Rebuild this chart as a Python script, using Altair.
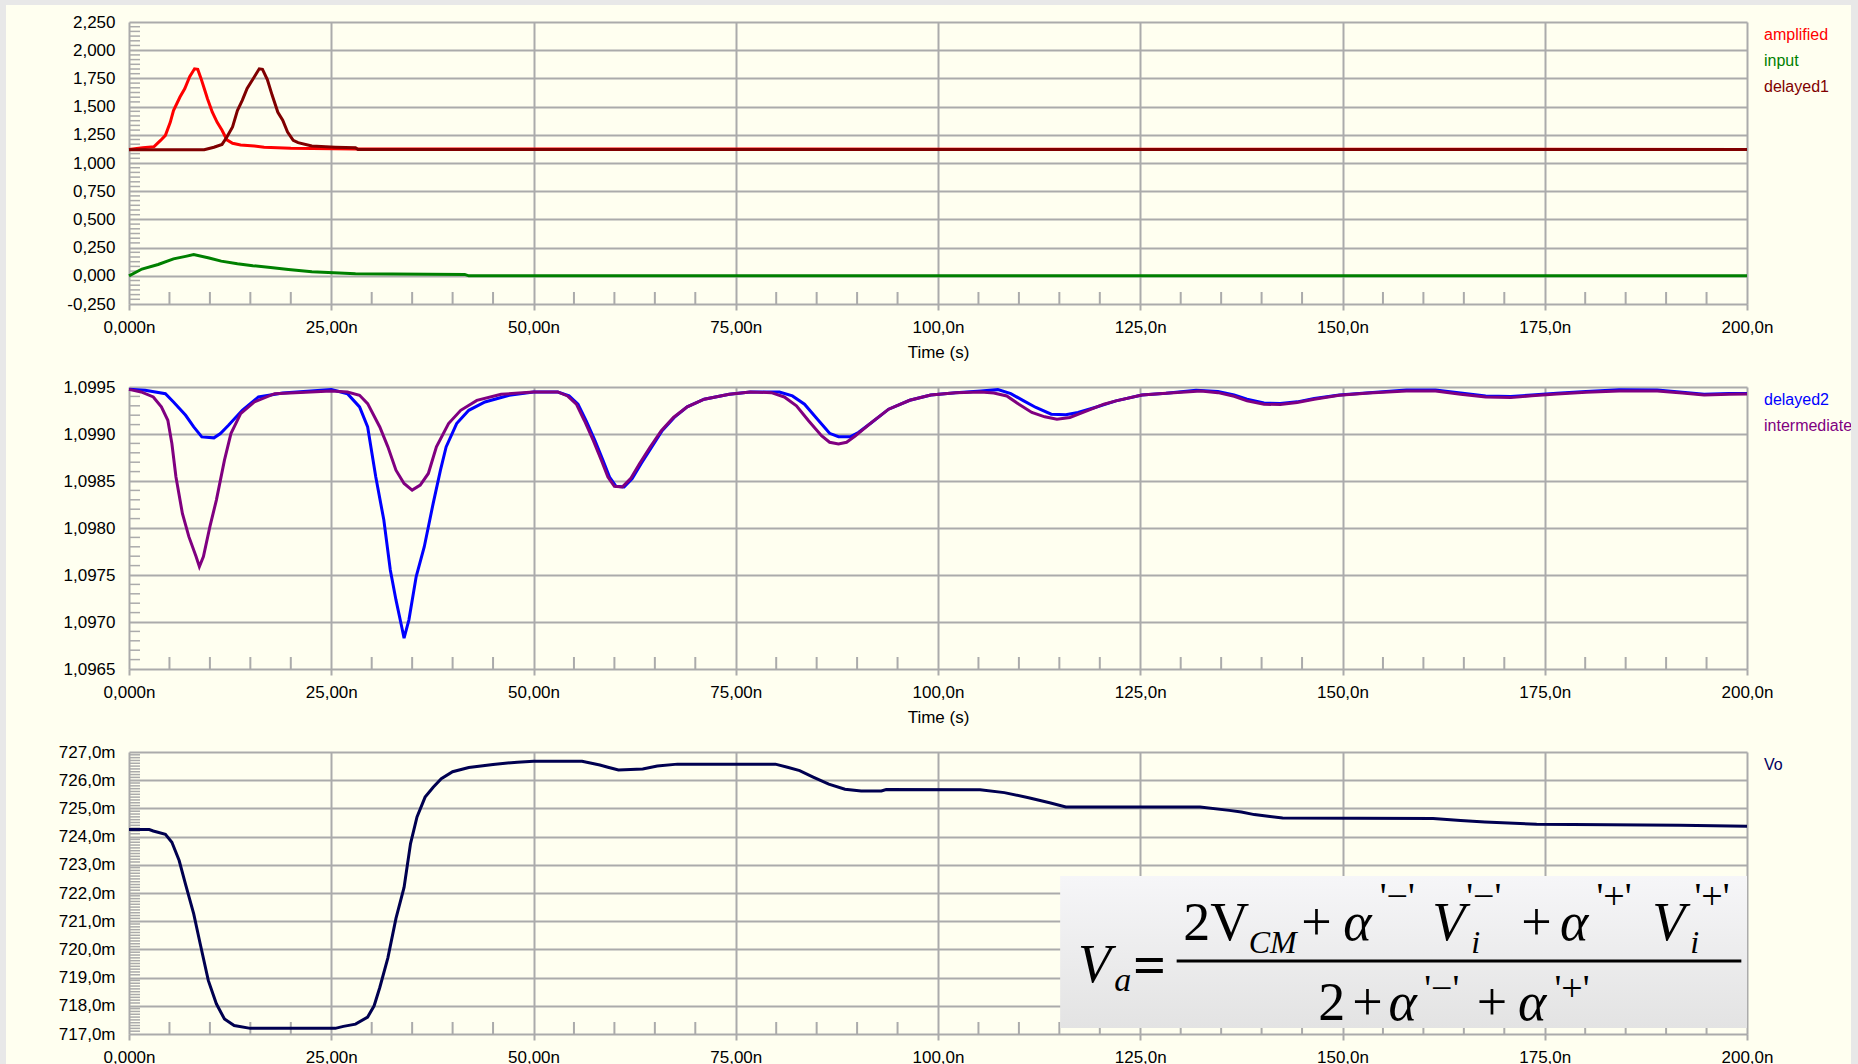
import json
import altair as alt
import pandas as pd

# ---------------- series (time in ns) ----------------
AMP_T = [0, 1.7, 3.1, 3.9, 4.5, 5.1, 5.5, 6.3, 6.9, 7.5, 8.1, 8.5, 8.9, 9.3, 9.7, 10.3,
         10.9, 11.5, 12.1, 12.8, 13.8, 15.5, 16.7, 20.0, 28.0, 200]
AMP_V = [1.12, 1.135, 1.145, 1.20, 1.245, 1.36, 1.465, 1.585, 1.66, 1.765, 1.835, 1.83,
         1.75, 1.66, 1.57, 1.45, 1.36, 1.29, 1.205, 1.175, 1.16, 1.15, 1.14, 1.13, 1.125, 1.12]

INP_T = [0, 1.6, 3.6, 5.5, 7.0, 8.0, 9.9, 11.4, 13.4, 15.3, 17.5, 19.7, 22.6, 28.0, 41.5, 42.0, 200]
INP_V = [0.0, 0.06, 0.10, 0.15, 0.172, 0.188, 0.158, 0.13, 0.107, 0.09, 0.074, 0.056, 0.035,
         0.018, 0.012, 0.0, 0.0]

DL1_T = [0, 9.3, 10.5, 11.5, 12.1, 12.8, 13.4, 14.0, 14.6, 15.5, 16.1, 16.5, 17.1, 17.7, 18.4,
         19.0, 19.6, 20.3, 20.9, 22.6, 25.5, 28.0, 28.3, 200]
DL1_V = [1.117, 1.117, 1.14, 1.165, 1.23, 1.32, 1.465, 1.555, 1.66, 1.765, 1.835, 1.83, 1.74,
         1.60, 1.45, 1.38, 1.275, 1.20, 1.18, 1.15, 1.14, 1.135, 1.12, 1.12]

DL2_T = [0, 2, 4.5, 5.5, 7, 8, 9, 10.5, 11.3, 12.3, 14, 16, 19, 25, 27, 28.5, 29.5, 30.5, 31.5,
         32.3, 33, 33.7, 34, 34.6, 35.5, 36.5, 37.6, 38.5, 39.2, 40.5, 42, 44, 47, 50, 53, 54.4,
         55.5, 56.5, 57.6, 58.6, 59.4, 60.2, 61.2, 62.2, 63.3, 64.6, 65.9, 67.4, 69, 71.1, 74.2,
         76.8, 80.4, 82, 83.5, 85.1, 86.6, 87.7, 89.2, 90.2, 91.8, 93.9, 96.5, 99.1, 102.2, 105.3,
         107.4, 109, 110.6, 112.1, 114, 115.8, 117.3, 119.4, 122, 125.2, 128.2, 131.9, 134.6,
         136.6, 138.2, 140.3, 142.3, 144.4, 146.5, 149.6, 153.3, 157.9, 161.5, 164.6, 167.7,
         170.8, 173.4, 176.5, 180.1, 184.2, 188.9, 192, 194.7, 197.8, 200]
DL2_V = [1.099475, 1.099465, 1.099429, 1.099341, 1.099199, 1.099075, 1.098969, 1.098959,
         1.099005, 1.099093, 1.099252, 1.099394, 1.099436, 1.099472, 1.099429, 1.099288,
         1.099075, 1.098545, 1.098085, 1.097554, 1.097235, 1.096952, 1.096828, 1.097023,
         1.097483, 1.097801, 1.098262, 1.098615, 1.098863, 1.099111, 1.099252, 1.099341,
         1.099412, 1.099447, 1.099447, 1.099405, 1.099317, 1.099141, 1.09893, 1.098718,
         1.098542, 1.098444, 1.098437, 1.098525, 1.098683, 1.098859, 1.099035, 1.099176,
         1.099289, 1.09937, 1.099423, 1.099447, 1.099447, 1.099405, 1.099317, 1.099158,
         1.099007, 1.098972, 1.098972, 1.099018, 1.099123, 1.099264, 1.099359, 1.099415,
         1.09944, 1.099458, 1.099472, 1.09943, 1.099352, 1.099282, 1.099211, 1.099204,
         1.099229, 1.099282, 1.099352, 1.099415, 1.099433, 1.099465, 1.099451, 1.099415,
         1.09937, 1.099331, 1.099324, 1.099342, 1.099377, 1.099415, 1.09944, 1.099468,
         1.099468, 1.099437, 1.099405, 1.099398, 1.099415, 1.099433, 1.099451, 1.099472,
         1.099468, 1.099444, 1.099423, 1.09943, 1.09943]

INT_T = [0, 1.5, 3, 4, 4.8, 5.3, 5.8, 6.6, 7.4, 8.3, 8.7, 9.2, 10, 10.8, 11.8, 12.6, 13.8, 15.5,
         18, 25, 27, 28.5, 29.5, 31, 32, 33, 34, 35, 36, 37, 38, 39.5, 41, 43, 46, 50, 53, 54.2,
         55.3, 56.3, 57.4, 58.4, 59.2, 60.0, 61.0, 62.0, 63.1, 64.4, 65.8, 67.3, 69, 71.1, 74.2,
         76.8, 79.4, 81, 82.5, 84, 85.6, 86.6, 87.7, 88.7, 89.8, 91.8, 93.9, 96.5, 99.1, 102.2,
         105.3, 106.9, 108.5, 110, 111.6, 113.2, 114.7, 116.3, 118.4, 120.5, 122, 125.2, 128.2,
         132.5, 134.6, 136.6, 138.2, 140.3, 142.3, 144.4, 146.5, 149.6, 153.3, 157.9, 161.5,
         164.6, 167.7, 170.8, 173.4, 176.5, 180.1, 184.2, 188.9, 192, 194.7, 197.8, 200]
INT_V = [1.099475, 1.099447, 1.099394, 1.099288, 1.099146, 1.098898, 1.098545, 1.098155,
         1.097908, 1.097695, 1.097589, 1.097695, 1.098014, 1.098297, 1.098722, 1.099005,
         1.099217, 1.099341, 1.099429, 1.099458, 1.099447, 1.099412, 1.099323, 1.099075,
         1.098863, 1.098615, 1.098474, 1.098403, 1.098456, 1.09858, 1.098863, 1.099111,
         1.099252, 1.099358, 1.099422, 1.099447, 1.099447, 1.099405, 1.099317, 1.099141,
         1.09893, 1.098718, 1.098542, 1.098444, 1.098437, 1.098525, 1.098683, 1.098859,
         1.099035, 1.099176, 1.099289, 1.09937, 1.099423, 1.099447, 1.09944, 1.099394,
         1.0993, 1.099141, 1.098982, 1.098912, 1.098894, 1.098912, 1.098982, 1.099123,
         1.099264, 1.099359, 1.099415, 1.09944, 1.099447, 1.099437, 1.099405, 1.099317,
         1.099229, 1.099183, 1.099158, 1.099176, 1.099246, 1.099317, 1.099352, 1.099415,
         1.099433, 1.099458, 1.09944, 1.099401, 1.099352, 1.099317, 1.099313, 1.099335,
         1.09937, 1.099412, 1.099437, 1.099458, 1.099458, 1.099423, 1.099394, 1.099387,
         1.099408, 1.099426, 1.099444, 1.099458, 1.099458, 1.099437, 1.099415, 1.099423,
         1.099426]

VO_T = [0, 2.5, 3, 4.5, 5.3, 6.2, 7, 8, 8.8, 9.8, 10.8, 11.8, 13, 15, 25.5, 26.5, 28, 29.5,
        30.3, 31, 32, 33, 34, 34.8, 35.6, 36.6, 37.6, 38.6, 40, 42, 45, 48, 50, 56, 58.2, 59.2,
        60.5, 63.5, 65.3, 67.8, 79.9, 81.4, 82.9, 84.5, 86.5, 88.5, 90.5, 93, 93.6, 105.2, 108.2,
        111.2, 113.8, 115.8, 132.4, 136, 137.5, 139.1, 140.8, 142.6, 161.2, 164.6, 167.6, 174,
        191.7, 200]
VO_V = [724.25, 724.25, 724.2, 724.08, 723.8, 723.15, 722.3, 721.26, 720.2, 718.9, 718.07,
        717.53, 717.3, 717.2, 717.2, 717.27, 717.35, 717.6, 718.0, 718.65, 719.7, 721.1, 722.2,
        723.75, 724.7, 725.4, 725.75, 726.05, 726.3, 726.45, 726.56, 726.64, 726.67, 726.67,
        726.54, 726.46, 726.36, 726.4, 726.5, 726.57, 726.57, 726.46, 726.34, 726.12, 725.86,
        725.68, 725.62, 725.62, 725.67, 725.66, 725.56, 725.38, 725.2, 725.05, 725.05, 724.93,
        724.87, 724.78, 724.72, 724.66, 724.64, 724.57, 724.52, 724.44, 724.4, 724.37]

# ---------------- axes ----------------
X_TICKS = [0, 25, 50, 75, 100, 125, 150, 175, 200]
X_LABELS = ["0,000n", "25,00n", "50,00n", "75,00n", "100,0n", "125,0n", "150,0n", "175,0n", "200,0n"]
Y1_TICKS = [-0.25, 0.0, 0.25, 0.5, 0.75, 1.0, 1.25, 1.5, 1.75, 2.0, 2.25]
Y2_TICKS = [1.0965, 1.097, 1.0975, 1.098, 1.0985, 1.099, 1.0995]
Y3_TICKS = [717, 718, 719, 720, 721, 722, 723, 724, 725, 726, 727]

# legend entries per panel
LEG1 = [("amplified", "#FF0000"), ("input", "#008000"), ("delayed1", "#800000")]
LEG2 = [("delayed2", "#0000FF"), ("intermediate", "#800080")]
LEG3 = [("Vo", "#000060")]

# formula pieces: text, time (ns), level (mV), font size, style (0 upright, 1 italic, 2 bold)
F_TEXT = ["V", "a", "=", "2V", "CM", "+", "α", "'−'", "V", "i", "'−'", "+", "α", "'+'", "V", "i", "'+'",
          "2", "+", "α", "'−'", "+", "α", "'+'"]
F_X = [117.3, 121.8, 124.1, 130.3, 138.4, 144.9, 150.1, 154.6, 161.1, 165.9, 165.3, 172.1, 176.9,
       181.4, 188.3, 193.0, 193.5, 147.0, 151.2, 155.7, 160.1, 166.6, 171.7, 176.2]
F_Y = [718.84, 718.52, 718.78, 720.35, 719.89, 720.35, 720.35, 721.45, 720.35, 719.89, 721.45, 720.35,
       720.35, 721.45, 720.35, 719.89, 721.45, 717.5, 717.5, 717.5, 718.18, 717.5, 717.5, 718.18]
F_SIZE = [54, 34, 58, 54, 32, 54, 54, 38, 54, 32, 38, 54, 54, 38, 54, 32, 38, 54, 54, 54, 38, 54, 54, 38]
F_STYLE = [1, 1, 2, 0, 1, 0, 1, 0, 1, 1, 0, 0, 1, 0, 1, 1, 0, 0, 0, 1, 0, 0, 1, 0]
F_BOX = (115.1, 200.0, 717.21, 722.6)
F_BAR = (129.5, 199.3, 719.59)

W, H = 1618, 282
CREAM = "#FFFFF0"
GRID = "#ABABAB"
FONT = "Liberation Sans"
SERIF = "Liberation Serif"
LINE_W = 3

XSCALE = alt.Scale(domain=[0, 200], nice=False, zero=False)
X_LABEL_EXPR = json.dumps(X_LABELS) + "[round(datum.value / 25)]"


def x_axis(title):
    kw = dict(values=X_TICKS, labelExpr=X_LABEL_EXPR, grid=True, gridColor=GRID, gridWidth=2,
              domain=False, ticks=True, tickColor=GRID, tickWidth=2, tickSize=6,
              labelFont=FONT, labelFontSize=17, labelColor="#000000", labelPadding=9,
              labelFlush=False, labelOverlap=False)
    if title:
        kw.update(title=title, titleFont=FONT, titleFontSize=17, titleFontWeight="normal",
                  titleColor="#000000", titlePadding=9)
    else:
        kw.update(title=None)
    return alt.Axis(**kw)


def y_axis(values, expr):
    return alt.Axis(values=values, labelExpr=expr, grid=True, gridColor=GRID, gridWidth=2,
                    domain=False, ticks=False, labelFont=FONT, labelFontSize=17,
                    labelColor="#000000", labelPadding=14, title=None, labelOverlap=False)


class Panel:
    """Shared x/y encodings so every layer of a panel merges into one pair of axes."""

    def __init__(self, yscale, xaxis, yaxis):
        self.yscale, self.xaxis, self.yaxis = yscale, xaxis, yaxis

    def X(self, field):
        return alt.X(field, scale=XSCALE, axis=self.xaxis, title=self.xaxis.title)

    def Y(self, field):
        return alt.Y(field, scale=self.yscale, axis=self.yaxis, title=None)

    def minor(self, y_minor):
        xm = pd.DataFrame({"t": [t for t in range(5, 200, 5) if t % 25]})
        ym = pd.DataFrame({"v": y_minor})
        xr = alt.Chart(xm).mark_rule(color=GRID, strokeWidth=2).encode(
            x=self.X("t:Q"), y=alt.value(H - 12), y2=alt.value(H))
        yr = alt.Chart(ym).mark_rule(color=GRID, strokeWidth=1.5).encode(
            y=self.Y("v:Q"), x=alt.value(0), x2=alt.value(11))
        return [xr, yr]

    def line(self, t, v, color):
        df = pd.DataFrame({"t": t, "v": v})
        return alt.Chart(df).mark_line(color=color, strokeWidth=LINE_W).encode(
            x=self.X("t:Q"), y=self.Y("v:Q"))


def legend(entries):
    layers = []
    for i, (name, color) in enumerate(entries):
        layers.append(alt.Chart(pd.DataFrame({"name": [name]})).mark_text(
            align="left", baseline="middle", font=FONT, fontSize=16, color=color).encode(
            text="name:N", x=alt.value(W + 17), y=alt.value(13 + 26 * i)))
    return layers


one = pd.DataFrame({"k": [0]})

# ---- panel 1 ----
Y1 = alt.Scale(domain=[-0.25, 2.25], nice=False, zero=False)
y1_minor = [round(-0.25 + k * 0.25 / 6, 4) for k in range(61) if k % 6]
P1 = Panel(Y1, x_axis("Time (s)"),
           y_axis(Y1_TICKS, "(datum.value < 0 ? '-' : '') + replace(format(abs(datum.value), '.3f'), '.', ',')"))
frame_left = alt.Chart(one).mark_rect(color="#E8E8E8").encode(
    x=alt.value(-129), x2=alt.value(-123), y=alt.value(-22), y2=alt.value(1042))
frame_top = alt.Chart(one).mark_rect(color="#E8E8E8").encode(
    x=alt.value(-129), x2=alt.value(1729), y=alt.value(-22), y2=alt.value(-17))
panel1 = alt.layer(
    *P1.minor(y1_minor),
    P1.line(INP_T, INP_V, "#008000"),
    P1.line(AMP_T, AMP_V, "#FF0000"),
    P1.line(DL1_T, DL1_V, "#800000"),
    *legend(LEG1),
    frame_left, frame_top,
).properties(width=W, height=H)

# ---- panel 2 ----
Y2 = alt.Scale(domain=[1.0965, 1.0995], nice=False, zero=False)
y2_minor = [round(1.0965 + k * 0.0001, 5) for k in range(31) if k % 5]
P2 = Panel(Y2, x_axis("Time (s)"), y_axis(Y2_TICKS, "replace(format(datum.value, '.4f'), '.', ',')"))
panel2 = alt.layer(
    *P2.minor(y2_minor),
    P2.line(DL2_T, DL2_V, "#0000FF"),
    P2.line(INT_T, INT_V, "#800080"),
    *legend(LEG2),
).properties(width=W, height=H)

# ---- panel 3 ----
Y3 = alt.Scale(domain=[717, 727], nice=False, zero=False)
y3_minor = [round(717 + k * 0.1, 2) for k in range(101) if k % 10]
P3 = Panel(Y3, x_axis(None), y_axis(Y3_TICKS, "replace(format(datum.value, '.1f'), '.', ',') + 'm'"))

box = alt.Chart(pd.DataFrame({"x0": [F_BOX[0]], "x1": [F_BOX[1]], "y0": [F_BOX[2]], "y1": [F_BOX[3]]})).mark_rect(
    fill=alt.LinearGradient(gradient="linear", x1=0, y1=0, x2=0, y2=1,
                            stops=[alt.GradientStop(color="#F6F6F8", offset=0),
                                   alt.GradientStop(color="#E3E3E3", offset=1)])
).encode(x=P3.X("x0:Q"), x2="x1:Q", y=P3.Y("y0:Q"), y2="y1:Q")

bar = alt.Chart(pd.DataFrame({"x0": [F_BAR[0]], "x1": [F_BAR[1]], "y": [F_BAR[2]]})).mark_rule(
    color="#000000", strokeWidth=3).encode(x=P3.X("x0:Q"), x2="x1:Q", y=P3.Y("y:Q"))

fdf = pd.DataFrame({"text": F_TEXT, "x": F_X, "y": F_Y, "fs": F_SIZE, "st": F_STYLE})


def formula_layer(style):
    return alt.Chart(fdf[fdf["st"] == style]).mark_text(
        align="left", baseline="alphabetic", font=SERIF, color="#000000",
        fontStyle="italic" if style == 1 else "normal",
        fontWeight="bold" if style == 2 else "normal").encode(
        text="text:N", x=P3.X("x:Q"), y=P3.Y("y:Q"),
        size=alt.Size("fs:Q", scale=None, legend=None))


frame_right = alt.Chart(one).mark_rect(color="#E8E8E8").encode(
    x=alt.value(1722), x2=alt.value(1729), y=alt.value(-751), y2=alt.value(313))

panel3 = alt.layer(
    *P3.minor(y3_minor),
    P3.line(VO_T, VO_V, "#000050"),
    box, bar, formula_layer(0), formula_layer(1), formula_layer(2),
    *legend(LEG3),
    frame_right,
).properties(width=W, height=H)

chart = alt.vconcat(panel1, panel2, panel3, spacing=83, bounds="flush").properties(
    background=CREAM, padding=0
).configure_view(stroke=None)

chart.save("out.html", embed_options={"renderer": "svg", "actions": False})
